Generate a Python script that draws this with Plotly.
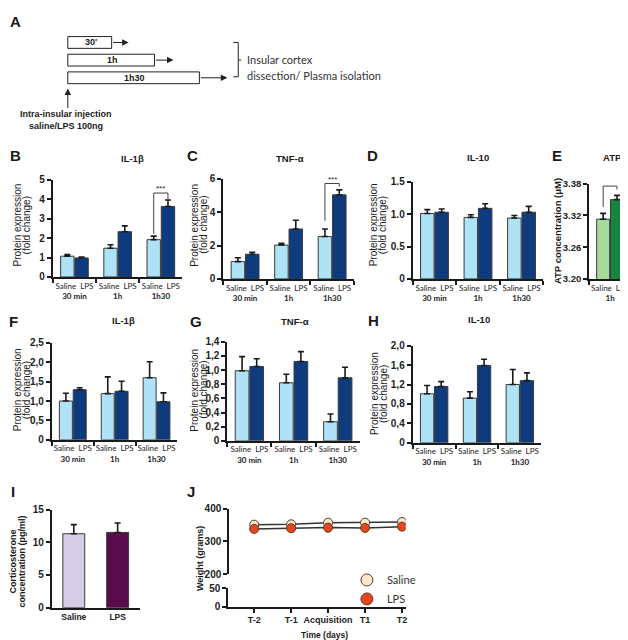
import plotly.graph_objects as go

W, H = 628, 640

# ---------------- data ----------------
groups = ["30 min", "1h", "1h30"]

b_saline = [1.07, 1.48, 1.92]
b_saline_err = [0.08, 0.18, 0.18]
b_lps = [0.98, 2.33, 3.63]
b_lps_err = [0.05, 0.30, 0.33]

c_saline = [1.04, 2.03, 2.54]
c_saline_err = [0.23, 0.10, 0.45]
c_lps = [1.48, 2.99, 5.04]
c_lps_err = [0.12, 0.53, 0.30]

d_saline = [1.01, 0.95, 0.94]
d_saline_err = [0.06, 0.04, 0.04]
d_lps = [1.03, 1.09, 1.03]
d_lps_err = [0.05, 0.07, 0.09]

e_groups = ["1h"]
e_saline = [3.313]
e_saline_err = [0.011]
e_lps = [3.350]
e_lps_err = [0.008]

f_saline = [1.00, 1.19, 1.60]
f_saline_err = [0.20, 0.43, 0.41]
f_lps = [1.29, 1.25, 0.98]
f_lps_err = [0.05, 0.26, 0.23]

g_saline = [0.99, 0.82, 0.27]
g_saline_err = [0.20, 0.12, 0.11]
g_lps = [1.05, 1.12, 0.89]
g_lps_err = [0.11, 0.14, 0.15]

h_saline = [1.01, 0.92, 1.20]
h_saline_err = [0.17, 0.13, 0.31]
h_lps = [1.16, 1.59, 1.28]
h_lps_err = [0.10, 0.13, 0.16]

i_groups = ["Saline", "LPS"]
i_values = [11.3, 11.5]
i_err = [1.4, 1.45]

j_days = ["T-2", "T-1", "Acquisition", "T1", "T2"]
j_saline = [351, 352, 357, 357, 359]
j_saline_err = [4, 4, 4, 3, 4]
j_lps = [338, 340, 342, 341, 345]
j_lps_err = [5, 5, 12, 6, 10]

# tick values / labels
b_ticks = [0, 1, 2, 3, 4, 5]
b_ticklabels = ["0", "1", "2", "3", "4", "5"]
c_ticks = [0, 2, 4, 6]
c_ticklabels = ["0", "2", "4", "6"]
d_ticks = [0, 0.5, 1.0, 1.5]
d_ticklabels = ["0", "0.5", "1.0", "1.5"]
e_ticks = [3.20, 3.26, 3.32, 3.38]
e_ticklabels = ["3.20", "3.26", "3.32", "3.38"]
f_ticks = [0, 0.5, 1.0, 1.5, 2.0, 2.5]
f_ticklabels = ["0", "0,5", "1,0", "1,5", "2,0", "2,5"]
g_ticks = [0, 0.2, 0.4, 0.6, 0.8, 1.0, 1.2, 1.4]
g_ticklabels = ["0", "0,2", "0,4", "0,6", "0,8", "1,0", "1,2", "1,4"]
h_ticks = [0, 0.4, 0.8, 1.2, 1.6, 2.0]
h_ticklabels = ["0", "0,4", "0,8", "1,2", "1,6", "2,0"]
i_ticks = [0, 5, 10, 15]
i_ticklabels = ["0", "5", "10", "15"]
j_upper_ticks = [200, 300, 400]
j_lower_ticks = [0, 50]

# ---------------- styling ----------------
LIGHT_BLUE = "#aee2f6"
DARK_BLUE = "#0d3b7d"
LIGHT_GREEN = "#a8da9c"
DARK_GREEN = "#17843f"
LAVENDER = "#d6cce6"
PLUM = "#5a0b4b"
SAL_DOT = "#fde7cb"
LPS_DOT = "#e8461f"
AX = "#1a1a1a"
NUMFONT = "Liberation Sans"
CATFONT = "Lato"
BARGAP = 0.34


def px(x):
    return x / W


def py(y):
    return 1 - y / H


fig = go.Figure()
layout_axes = {}


def cat_text(g):
    return "Saline\u2002LPS<br><b>%s</b>" % g


def add_bar_panel(n, cats, sal, sal_err, lps, lps_err, c1, c2, yrange, ticks,
                  ticklabels, xpx, ypx, ytick_size=10):
    for vals, errs, col in ((sal, sal_err, c1), (lps, lps_err, c2)):
        fig.add_trace(go.Bar(
            x=cats, y=vals,
            error_y=dict(type="data", array=errs, arrayminus=[0] * len(errs),
                         symmetric=False, color=AX, thickness=1.6, width=3),
            marker=dict(color=col, line=dict(color="#3a3a3a", width=1)),
            xaxis="x%d" % n, yaxis="y%d" % n, showlegend=False,
            hoverinfo="skip"))
    layout_axes["xaxis%d" % n] = dict(
        domain=[px(xpx[0]), px(xpx[1])], anchor="y%d" % n, type="category",
        range=[-0.5, len(cats) - 0.5], tickmode="array", tickvals=cats,
        ticktext=[cat_text(c) for c in cats], tickson="boundaries",
        tickangle=0,
        ticks="outside", ticklen=4, tickwidth=1.5, tickcolor=AX,
        showline=True, linewidth=2, linecolor=AX, showgrid=False,
        tickfont=dict(family=CATFONT, size=8, color="#222"), fixedrange=True)
    layout_axes["yaxis%d" % n] = dict(
        domain=[py(ypx[1]), py(ypx[0])], anchor="x%d" % n, range=yrange,
        tickmode="array", tickvals=ticks, ticktext=ticklabels,
        ticks="outside", ticklen=4, tickwidth=1.5, tickcolor=AX,
        showline=True, linewidth=2, linecolor=AX, showgrid=False,
        zeroline=False,
        tickfont=dict(family=NUMFONT, size=ytick_size, color="#222",
                      weight="bold"), fixedrange=True)


add_bar_panel(1, groups, b_saline, b_saline_err, b_lps, b_lps_err,
              LIGHT_BLUE, DARK_BLUE, [0, 5], b_ticks, b_ticklabels,
              (45, 175), (169, 268))
add_bar_panel(2, groups, c_saline, c_saline_err, c_lps, c_lps_err,
              LIGHT_BLUE, DARK_BLUE, [0, 6], c_ticks, c_ticklabels,
              (216, 347), (168, 270))
add_bar_panel(3, groups, d_saline, d_saline_err, d_lps, d_lps_err,
              LIGHT_BLUE, DARK_BLUE, [0, 1.5], d_ticks, d_ticklabels,
              (406, 537), (171, 270))
add_bar_panel(4, e_groups, e_saline, e_saline_err, e_lps, e_lps_err,
              LIGHT_GREEN, DARK_GREEN, [3.20, 3.38], e_ticks, e_ticklabels,
              (583, 625), (173, 270), ytick_size=9.5)
add_bar_panel(5, groups, f_saline, f_saline_err, f_lps, f_lps_err,
              LIGHT_BLUE, DARK_BLUE, [0, 2.5], f_ticks, f_ticklabels,
              (44, 170), (335, 434))
add_bar_panel(6, groups, g_saline, g_saline_err, g_lps, g_lps_err,
              LIGHT_BLUE, DARK_BLUE, [0, 1.4], g_ticks, g_ticklabels,
              (220, 353), (334, 435))
add_bar_panel(7, groups, h_saline, h_saline_err, h_lps, h_lps_err,
              LIGHT_BLUE, DARK_BLUE, [0, 2.0], h_ticks, h_ticklabels,
              (406, 535), (338, 437))

# ---- panel I ----
fig.add_trace(go.Bar(
    x=i_groups, y=i_values, width=0.5,
    error_y=dict(type="data", array=i_err, arrayminus=[0] * len(i_err),
                 symmetric=False, color=AX, thickness=1.6, width=3),
    marker=dict(color=[LAVENDER, PLUM], line=dict(color="#3a3a3a", width=1)),
    xaxis="x8", yaxis="y8", showlegend=False, hoverinfo="skip"))
layout_axes["xaxis8"] = dict(
    domain=[px(44), px(132)], anchor="y8", type="category",
    range=[-0.5, 1.5], ticks="", showline=True, linewidth=2, linecolor=AX,
    showgrid=False, tickvals=i_groups, tickangle=0,
    ticktext=["<b>%s</b>" % g for g in i_groups],
    tickfont=dict(family=NUMFONT, size=8.5, color="#222"), fixedrange=True)
layout_axes["yaxis8"] = dict(
    domain=[py(605), py(505)], anchor="x8", range=[0, 15], tickmode="array",
    tickvals=i_ticks, ticktext=i_ticklabels, ticks="outside", ticklen=4,
    tickwidth=1.5, tickcolor=AX, showline=True, linewidth=2, linecolor=AX,
    showgrid=False, zeroline=False,
    tickfont=dict(family=NUMFONT, size=10, color="#222", weight="bold"),
    fixedrange=True)

# ---- panel J (broken y axis) ----
for vals, errs, col, name in ((j_saline, j_saline_err, SAL_DOT, "Saline"),
                              (j_lps, j_lps_err, LPS_DOT, "LPS")):
    fig.add_trace(go.Scatter(
        x=j_days, y=vals, mode="lines+markers",
        line=dict(color="#333", width=1.5),
        error_y=dict(type="data", array=errs, color="#333", thickness=1.2,
                     width=2),
        marker=dict(size=9, color=col, line=dict(color="#5a3a2a", width=1)),
        xaxis="x10", yaxis="y9", showlegend=False, hoverinfo="skip"))
    fig.add_trace(go.Scatter(
        x=[None], y=[None], mode="markers", name=name,
        marker=dict(size=12, color=col, line=dict(color="#5a3a2a", width=1)),
        xaxis="x10", yaxis="y9", showlegend=True, hoverinfo="skip"))
fig.add_trace(go.Scatter(x=j_days, y=[None] * len(j_days), mode="markers",
                         xaxis="x10", yaxis="y10", showlegend=False,
                         hoverinfo="skip"))
layout_axes["xaxis10"] = dict(
    domain=[px(221), px(399)], anchor="y10", type="category",
    range=[-0.7, 4.1], ticks="outside", ticklen=4, tickwidth=1.5,
    tickcolor=AX, showline=True, linewidth=2, linecolor=AX, showgrid=False,
    tickangle=0,
    tickfont=dict(family=NUMFONT, size=9, color="#222", weight="bold"),
    fixedrange=True)
layout_axes["yaxis9"] = dict(
    domain=[py(571), py(504)], anchor="free", position=px(221),
    range=[200, 400], tickmode="array", tickvals=j_upper_ticks,
    ticks="outside", ticklen=4, tickwidth=1.5, tickcolor=AX, showline=True,
    linewidth=2, linecolor=AX, showgrid=False, zeroline=False,
    tickfont=dict(family=NUMFONT, size=10, color="#222", weight="bold"),
    fixedrange=True)
layout_axes["yaxis10"] = dict(
    domain=[py(604), py(585)], anchor="x10", range=[0, 50], tickmode="array",
    tickvals=j_lower_ticks, ticks="outside", ticklen=4, tickwidth=1.5,
    tickcolor=AX, showline=True, linewidth=2, linecolor=AX, showgrid=False,
    zeroline=False,
    tickfont=dict(family=NUMFONT, size=10, color="#222", weight="bold"),
    fixedrange=True)

# ---------------- annotations / shapes ----------------
ann = []
shapes = []


def text(x, y, s, size=9, bold=True, family=NUMFONT, angle=0, xanchor="center",
         color="#1a1a1a"):
    ann.append(dict(x=px(x), y=py(y), xref="paper", yref="paper",
                    text=("<b>%s</b>" % s) if bold else s, showarrow=False,
                    textangle=angle, xanchor=xanchor, yanchor="middle",
                    font=dict(family=family, size=size, color=color)))


# panel letters
for lab, x, y in (("A", 8, 8), ("B", 8, 144), ("C", 185, 144), ("D", 366, 144),
                  ("E", 551, 144), ("F", 6, 313), ("G", 189, 313),
                  ("H", 367, 312), ("I", 5, 487), ("J", 184, 487)):
    text(x, y, lab, size=15)

# panel titles
for s, x, y in (("IL-1β", 125, 147), ("TNF-α", 283, 147), ("IL-10", 471, 146),
                ("ATP", 606, 146), ("IL-1β", 116, 312), ("TNF-α", 288, 313),
                ("IL-10", 473, 311)):
    text(x, y, s, size=9.5)

# y axis titles (two rotated lines each)
for x, y in ((15, 215), (192, 215), (372, 215), (14, 383), (192, 383),
             (372, 387)):
    text(x - 4.5, y, "Protein expression", size=10, bold=False, angle=-90)
    text(x + 4.5, y, "(fold change)", size=10, bold=False, angle=-90)
text(552, 221, "ATP concentration (μM)", size=9.5, angle=-90)
text(5, 558, "Corticosterone", size=9, angle=-90)
text(14, 558, "concentration (pg/ml)", size=9, angle=-90)
text(192, 555, "Weight (grams)", size=9, angle=-90)
text(318, 633, "Time (days)", size=8.5)

# significance brackets
off = (1 - BARGAP) / 4


def bracket(n, xc, y_sal, y_top, y_lps, label, star_y, size=8):
    xr, yr = "x%d" % n, "y%d" % n
    shapes.append(dict(type="path", xref=xr, yref=yr,
                       path="M %f,%f L %f,%f L %f,%f L %f,%f" % (
                           xc - off, y_sal, xc - off, y_top, xc + off, y_top,
                           xc + off, y_lps),
                       line=dict(color="#444", width=1)))
    ann.append(dict(x=xc, y=star_y, xref=xr, yref=yr, text=label,
                    showarrow=False, font=dict(family=NUMFONT, size=size,
                                               color="#222")))


bracket(1, 2, b_saline[2] + b_saline_err[2] + 0.12, 4.32,
        b_lps[2] + b_lps_err[2], "***", 4.55)
bracket(2, 2, c_saline[2] + c_saline_err[2] + 0.5, 5.72,
        c_lps[2] + c_lps_err[2] + 0.2, "***", 5.98)
bracket(4, 0, e_saline[0] + e_saline_err[0] + 0.012, 3.3756,
        e_lps[0] + e_lps_err[0] + 0.011, "*", 3.385, size=10)

# ---- panel A diagram ----
for (x0, y0, x1, y1, lab, tip) in ((60, 23, 104, 35, "30'", 121),
                                   (60, 41, 147, 53, "1h", 166),
                                   (60, 59, 192, 71, "1h30", 220)):
    shapes.append(dict(type="rect", xref="paper", yref="paper",
                       x0=px(x0), x1=px(x1), y0=py(y1), y1=py(y0),
                       line=dict(color="#222", width=1), fillcolor="white"))
    text((x0 + x1) / 2 + 1, (y0 + y1) / 2, lab, size=9)
    ann.append(dict(x=px(tip), y=py((y0 + y1) / 2), xref="paper",
                    yref="paper", ax=-(tip - x1), ay=0, text="",
                    showarrow=True, arrowhead=2, arrowsize=1.3,
                    arrowwidth=1, arrowcolor="#222"))
shapes.append(dict(type="path", xref="paper", yref="paper",
                   path="M %f,%f L %f,%f L %f,%f L %f,%f" % (
                       px(226), py(29), px(231), py(29), px(231), py(64),
                       px(226), py(64)),
                   line=dict(color="#222", width=1)))
shapes.append(dict(type="line", xref="paper", yref="paper", x0=px(231),
                   x1=px(234), y0=py(47), y1=py(47),
                   line=dict(color="#222", width=1)))
text(238, 46, "Insular cortex", size=11, bold=False, family=CATFONT,
     xanchor="left", color="#333")
text(238, 63, "dissection/ Plasma isolation", size=11, bold=False,
     family=CATFONT, xanchor="left", color="#333")
ann.append(dict(x=px(60), y=py(76), xref="paper", yref="paper", ax=0, ay=21,
                text="", showarrow=True, arrowhead=2, arrowsize=1.3,
                arrowwidth=1, arrowcolor="#222"))
text(58, 102, "Intra-insular injection", size=9)
text(58, 114, "saline/LPS 100ng", size=9)

fig.update_layout(
    width=W, height=H, margin=dict(l=0, r=0, t=0, b=0),
    paper_bgcolor="white", plot_bgcolor="white",
    barmode="group", bargap=BARGAP, bargroupgap=0.06,
    annotations=ann, shapes=shapes,
    legend=dict(x=px(340), y=py(562), xanchor="left", yanchor="top",
                bgcolor="rgba(0,0,0,0)", tracegroupgap=0,
                font=dict(family=CATFONT, size=11, color="#333"),
                itemsizing="trace"),
    **layout_axes)

fig.write_html("out.html")
